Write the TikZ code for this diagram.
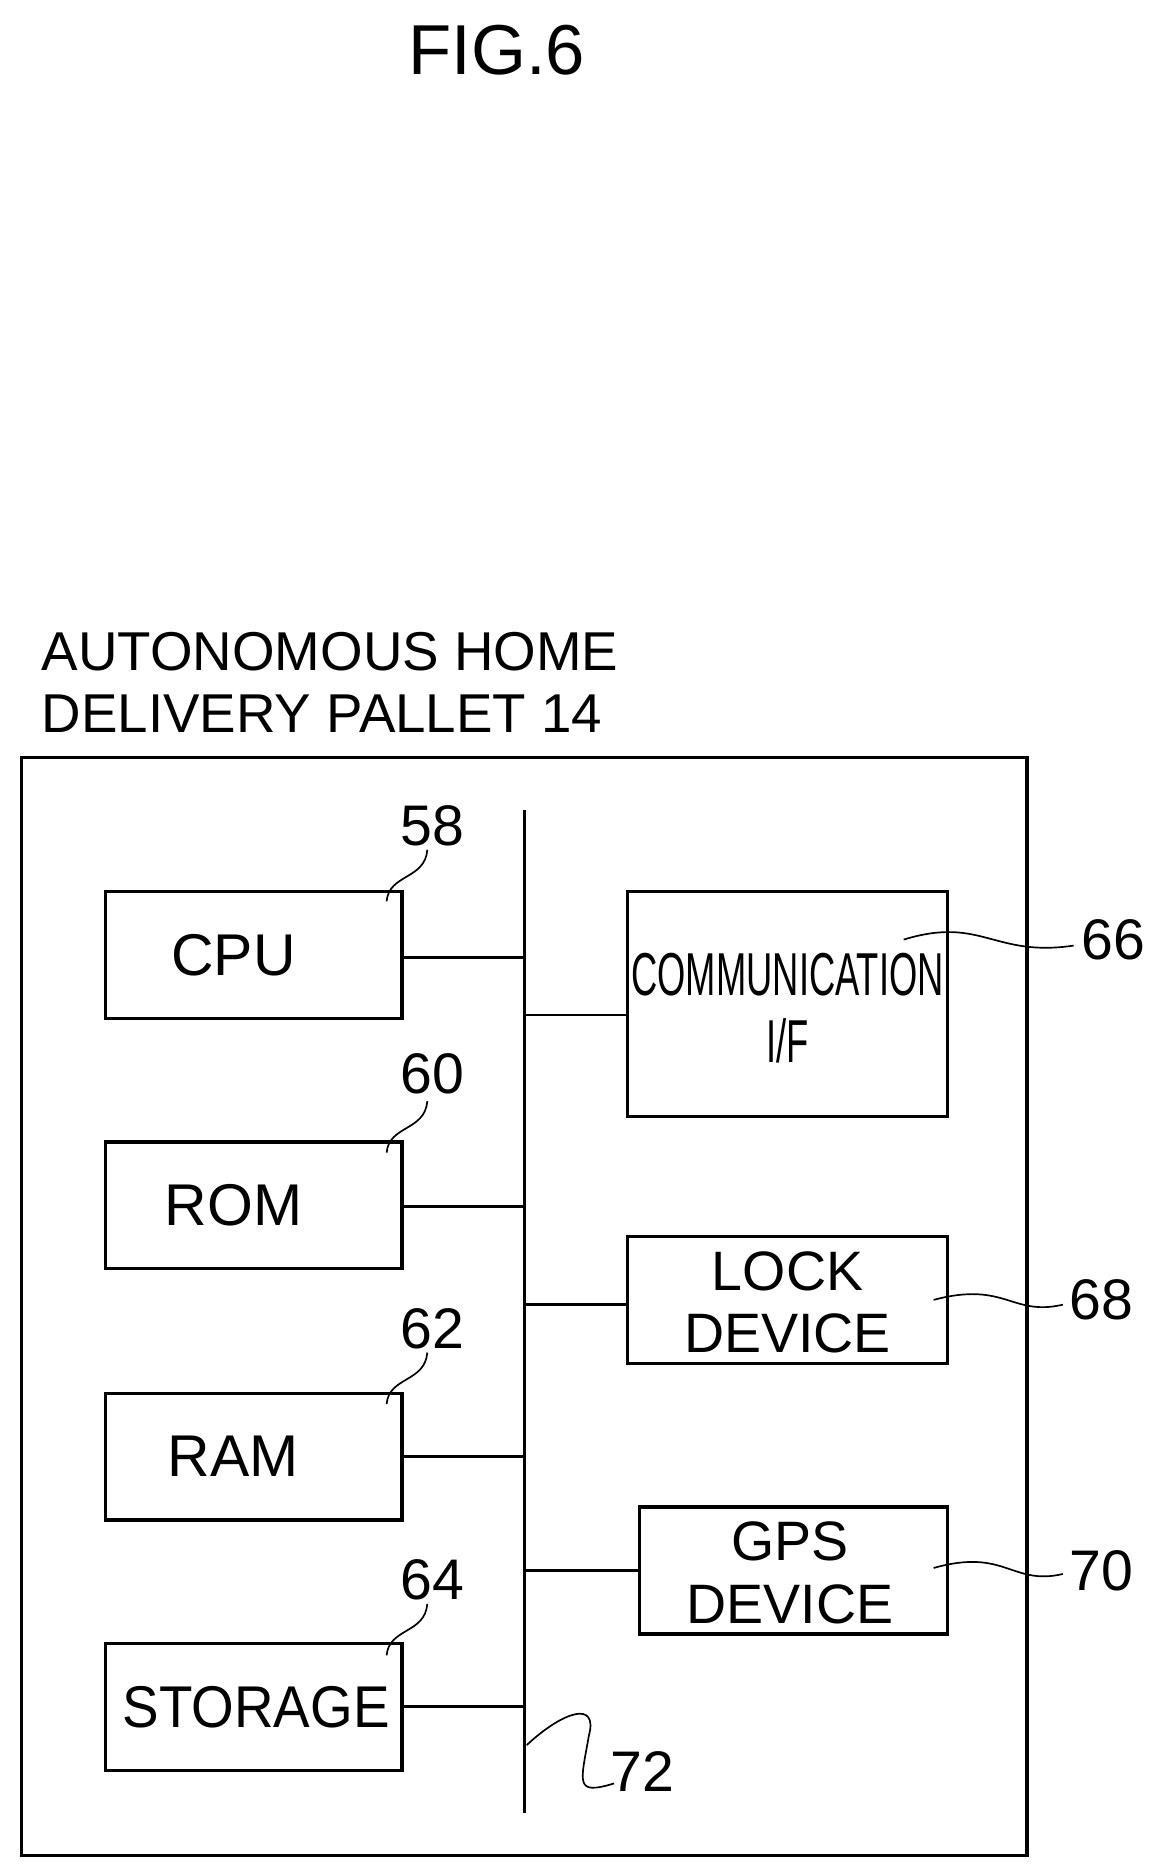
\documentclass[tikz,border=0pt]{standalone}
\usepackage{fontspec}
\setmainfont{Liberation Sans}
\usetikzlibrary{positioning}
\tikzset{box/.style={draw,line width=2pt},
  link/.style={line width=1.6pt},
  lead/.style={line width=1pt},
  num/.style={font=\fontsize{34}{36}\selectfont}}
\begin{document}
\begin{tikzpicture}[x=0.025cm,y=-0.025cm]
\useasboundingbox (0,0) rectangle (970,1564);
%Title
\node (fig) at (415,42) {\fontsize{42}{44}\selectfont FIG.6};
\node[anchor=west,align=left,font=\fontsize{32.5}{37}\selectfont] (title) at (30,570) {AUTONOMOUS HOME\\DELIVERY PALLET 14};
%Frame and bus
\draw[box] (18,633) rectangle (858,1550);
\coordinate (bustop) at (438,677);
\coordinate (busbot) at (438,1515);
\draw[link] (bustop) -- (busbot);
%Boxes
\tikzset{every node/.style={font=\fontsize{35}{37}\selectfont}}
\node[box,minimum width=248*0.025cm,minimum height=106*0.025cm] (cpu) at (212,798) {};
\node at (195,798) {CPU};
\node[box,minimum width=248*0.025cm,minimum height=106*0.025cm] (rom) at (212,1007) {};
\node at (195,1007) {ROM};
\node[box,minimum width=248*0.025cm,minimum height=106*0.025cm] (ram) at (212,1217) {};
\node at (195,1217) {RAM};
\node[box,minimum width=248*0.025cm,minimum height=106*0.025cm] (storage) at (212,1426) {};
\node at (214,1426) {\scalebox{0.93}[1]{STORAGE}};
\node[box,minimum width=267*0.025cm,minimum height=188*0.025cm] (comm) at (658,839) {};
\node[align=center,font=\fontsize{36}{40}\selectfont] at (658,842) {\scalebox{0.6}[1]{COMMUNICATION}\\\scalebox{0.6}[1]{I/F}};
\node[box,minimum width=267*0.025cm,minimum height=106*0.025cm] (lock) at (658,1086) {};
\node[align=center,font=\fontsize{33}{37}\selectfont] at (658,1088) {LOCK\\DEVICE};
\node[box,minimum width=257*0.025cm,minimum height=106*0.025cm] (gps) at (663,1312) {};
\node[align=center,font=\fontsize{33}{37}\selectfont] at (660,1314) {GPS\\DEVICE};
%Links to bus
\draw[link] (cpu.east |- 0,800) -- (438,800);
\draw[link] (rom.east |- 0,1008) -- (438,1008);
\draw[link] (ram.east |- 0,1217) -- (438,1217);
\draw[link] (storage.east |- 0,1426) -- (438,1426);
\draw[link] (438,848) -- (comm.west |- 0,848);
\draw[link] (438,1090) -- (lock.west |- 0,1090);
\draw[link] (438,1312) -- (gps.west |- 0,1312);
%Reference numbers
\node[num] (n58) at (361,690) {58};
\node[num] (n60) at (361,897) {60};
\node[num] (n62) at (361,1110) {62};
\node[num] (n64) at (361,1320) {64};
\node[num] (n66) at (930,785) {66};
\node[num] (n68) at (920,1086) {68};
\node[num] (n70) at (920,1312) {70};
\node[num] (n72) at (537,1480) {72};
\foreach \n/\y in {58/745,60/955,62/1165,64/1375}
  \draw[lead] (323,\y+8) .. controls (325,\y-15) and (355,\y-10) .. (357,\y-35);
\draw[lead] (755,785) .. controls (820,765) and (830,800) .. (897,790);
\draw[lead] (780,1086) .. controls (840,1070) and (845,1100) .. (888,1090);
\draw[lead] (780,1310) .. controls (840,1293) and (845,1325) .. (888,1315);
\draw[lead] (440,1458) .. controls (470,1430) and (500,1420) .. (492,1450)
  .. controls (485,1490) and (480,1500) .. (513,1490);
\end{tikzpicture}
\end{document}
